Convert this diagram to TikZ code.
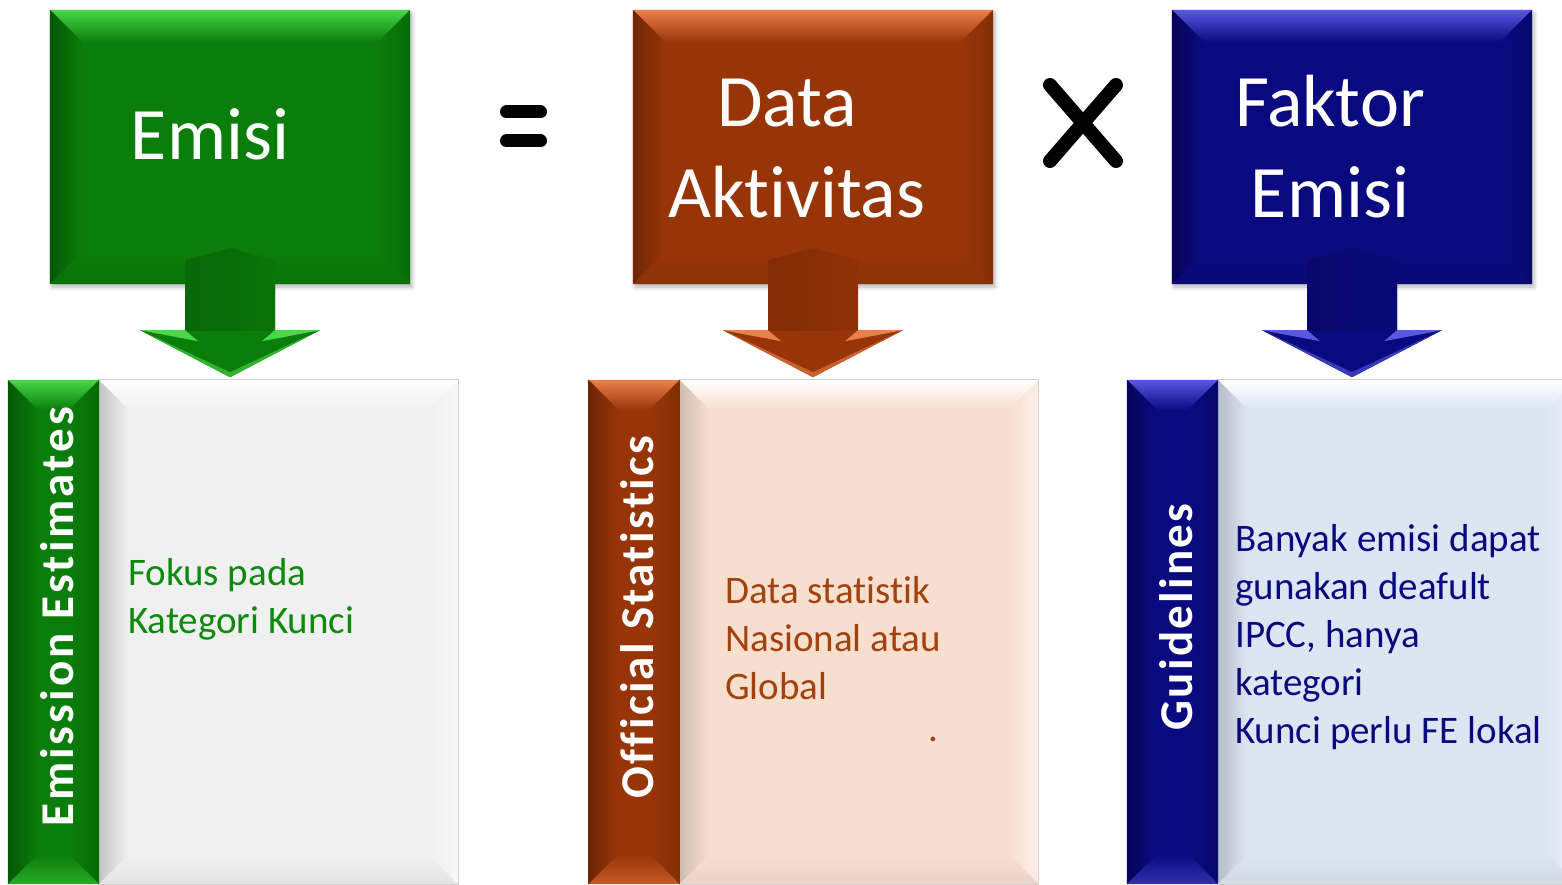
\documentclass[tikz,border=0pt]{standalone}
\usepackage{fontspec}
\setmainfont{Carlito}[Ligatures=NoCommon]
\newfontfamily\barfont{Carlito}[LetterSpace=5,Ligatures=NoCommon]
\newfontfamily\barfontwide{Carlito}[LetterSpace=6.5,Ligatures=NoCommon]
\usetikzlibrary{calc,shadows.blur}
\definecolor{gbase}{HTML}{0A7D0A}
\definecolor{glight}{HTML}{48D848}
\definecolor{gdark}{HTML}{055805}
\definecolor{gtext}{HTML}{0C8A0C}
\definecolor{bbase}{HTML}{983508}
\definecolor{blight}{HTML}{EC8048}
\definecolor{bdark}{HTML}{6E2604}
\definecolor{btext}{HTML}{A2420E}
\definecolor{nbase}{HTML}{0A0A80}
\definecolor{nlight}{HTML}{5858E4}
\definecolor{ndark}{HTML}{05055A}
\definecolor{ntext}{HTML}{0A0A80}
\definecolor{gpanel}{HTML}{F0F0F0}
\definecolor{bpanel}{HTML}{F7DFCF}
\definecolor{npanel}{HTML}{DCE6F2}
% bevel: node, base, top, left, right, bottom, depth
\newcommand\bevel[7]{%
\shade[top color=#3, bottom color=#2] (#1.north west) -- (#1.north east) -- ($(#1.north east)+(-#7,#7)$) -- ($(#1.north west)+(#7,#7)$) -- cycle;
\shade[left color=#4, right color=#2] (#1.north west) -- ($(#1.north west)+(#7,#7)$) -- ($(#1.south west)+(#7,-#7)$) -- (#1.south west) -- cycle;
\shade[left color=#2, right color=#5] (#1.north east) -- ($(#1.north east)+(-#7,#7)$) -- ($(#1.south east)+(-#7,-#7)$) -- (#1.south east) -- cycle;
\shade[top color=#2, bottom color=#6] (#1.south west) -- (#1.south east) -- ($(#1.south east)+(-#7,-#7)$) -- ($(#1.south west)+(#7,-#7)$) -- cycle;}
% block arrow: top node, base, light, dark, coordinate name
\newcommand\blockarrow[5]{%
\path (#1.south) coordinate (#5);
\begin{scope}
\clip ($(#5)+(-45,-24)$) -- ($(#5)+(0,-36)$) -- ($(#5)+(45,-24)$) -- ($(#5)+(45,46)$) -- ($(#5)+(90,46)$) -- ($(#5)+(0,93)$) -- ($(#5)+(-90,46)$) -- ($(#5)+(-45,46)$) -- cycle;
\fill[#2] ($(#5)+(-100,-40)$) rectangle ($(#5)+(100,100)$);
\shade[left color=#4!55!#2, middle color=#2, right color=#4!25!#2] ($(#5)+(-45,-40)$) rectangle ($(#5)+(45,46)$);
\fill[#3] ($(#5)+(-90,46)$) -- ($(#5)+(-45,46)$) -- ($(#5)+(-32,57)$) -- cycle;
\fill[#3] ($(#5)+(90,46)$) -- ($(#5)+(45,46)$) -- ($(#5)+(32,57)$) -- cycle;
\fill[#3!60!#2] ($(#5)+(-90,46)$) -- ($(#5)+(0,93)$) -- ($(#5)+(0,88)$) -- cycle;
\fill[#3!60!#2] ($(#5)+(90,46)$) -- ($(#5)+(0,93)$) -- ($(#5)+(0,88)$) -- cycle;
\end{scope}}
\begin{document}
\begin{tikzpicture}[x=1pt,y=-1pt,
 topbox/.style={minimum width=360pt, minimum height=274pt, inner sep=0pt, draw=none,
   blur shadow={shadow xshift=2pt, shadow yshift=-3pt, shadow blur radius=4pt, shadow opacity=30}},
 barbox/.style={minimum width=91pt, minimum height=504pt, inner sep=0pt, draw=none},
 panelbox/.style={minimum width=359pt, minimum height=504pt, inner sep=0pt, draw=none},
 bigtext/.style={text=white, font=\fontsize{74}{92}\selectfont, inner sep=0pt, anchor=base},
 bodytext/.style={font=\fontsize{39}{48}\selectfont, align=left, inner sep=0pt, anchor=base west},
 bartext/.style={rotate=90, anchor=base, text=white, inner sep=0pt, font=\barfont\bfseries\fontsize{47}{50}\selectfont},
 opsign/.style={line width=13pt, line cap=round, black}]
\useasboundingbox (0,0) rectangle (1562,885);
\clip (0,0) rectangle (1562,885);

% ---------- top boxes ----------
\node[topbox, fill=gbase] (emisiBox) at (230,147) {};
\bevel{emisiBox}{gbase}{glight}{gdark}{gdark!45!gbase}{gdark!30!gbase}{32}
\node[topbox, fill=bbase] (dataBox) at (813,147) {};
\bevel{dataBox}{bbase}{blight}{bdark}{bdark!45!bbase}{bdark!30!bbase}{32}
\node[topbox, fill=nbase] (faktorBox) at (1352,147) {};
\bevel{faktorBox}{nbase}{nlight}{ndark}{ndark!45!nbase}{ndark!30!nbase}{32}

% ---------- bottom boxes ----------
\node[panelbox, fill=gpanel] (gPanel) at (278.5,632) {};
\bevel{gPanel}{gpanel}{white}{gpanel!82!black}{gpanel!50!white}{gpanel!95!black}{30}
\draw[black!18, line width=1pt] (gPanel.north west) rectangle (gPanel.south east);
\node[barbox, fill=gbase] (gBar) at (53.5,632) {};
\bevel{gBar}{gbase}{glight}{gdark}{gdark!50!gbase}{glight!50!gbase}{30}

\node[panelbox, fill=bpanel] (bPanel) at (859,632) {};
\bevel{bPanel}{bpanel}{white}{bpanel!84!black}{bpanel!50!white}{bpanel!95!black}{30}
\draw[black!18, line width=1pt] (bPanel.north west) rectangle (bPanel.south east);
\node[barbox, fill=bbase] (bBar) at (634,632) {};
\bevel{bBar}{bbase}{blight}{bdark}{bdark!50!bbase}{blight!50!bbase}{30}

\node[panelbox, fill=npanel] (nPanel) at (1397.5,632) {};
\bevel{nPanel}{npanel}{white}{npanel!82!black}{npanel!50!white}{npanel!95!black}{30}
\draw[black!18, line width=1pt] (nPanel.north west) rectangle (nPanel.south east);
\node[barbox, fill=nbase] (nBar) at (1172.5,632) {};
\bevel{nBar}{nbase}{nlight}{ndark}{ndark!50!nbase}{nlight!50!nbase}{30}

% ---------- arrows ----------
\blockarrow{emisiBox}{gbase}{glight}{gdark}{gArrow}
\blockarrow{dataBox}{bbase}{blight}{bdark}{bArrow}
\blockarrow{faktorBox}{nbase}{nlight}{ndark}{nArrow}

% ---------- texts ----------
\node[bigtext] (emisiTxt) at (210,160) {Emisi};
\node[bigtext] (dataTxt) at (787,127) {Data};
\node[bigtext] (aktTxt) at (797,218) {Aktivitas};
\node[bigtext] (faktorTxt) at (1330,127) {Faktor};
\node[bigtext] (emisi2Txt) at (1330,218) {Emisi};

\node[bartext, font=\barfontwide\bfseries\fontsize{47}{50}\selectfont] (gBarTxt) at (73,617) {Emission Estimates};
\node[bartext] (bBarTxt) at (653.5,617) {Official Statistics};
\node[bartext] (nBarTxt) at (1192,617) {Guidelines};

% multi-line nodes: base anchor = baseline of the last line
\node[bodytext, text=gtext] (gBody) at (128,633) {Fokus pada\\Kategori Kunci};
\node[bodytext, text=btext] (bBody) at (725,699) {Data statistik\\Nasional atau\\Global};
\node[bodytext, text=btext] (bDot) at (928,741) {.};
\node[bodytext, text=ntext] (nBody) at (1235,743) {Banyak emisi dapat\\gunakan deafult\\IPCC, hanya\\kategori\\Kunci perlu FE lokal};

% ---------- operators ----------
\draw[opsign] (506.5,112) -- (540.5,112);
\draw[opsign] (506.5,141) -- (540.5,141);
\draw[opsign, line width=14pt] (1050,85) -- (1116,161);
\draw[opsign, line width=14pt] (1116,85) -- (1050,161);
\end{tikzpicture}
\end{document}
